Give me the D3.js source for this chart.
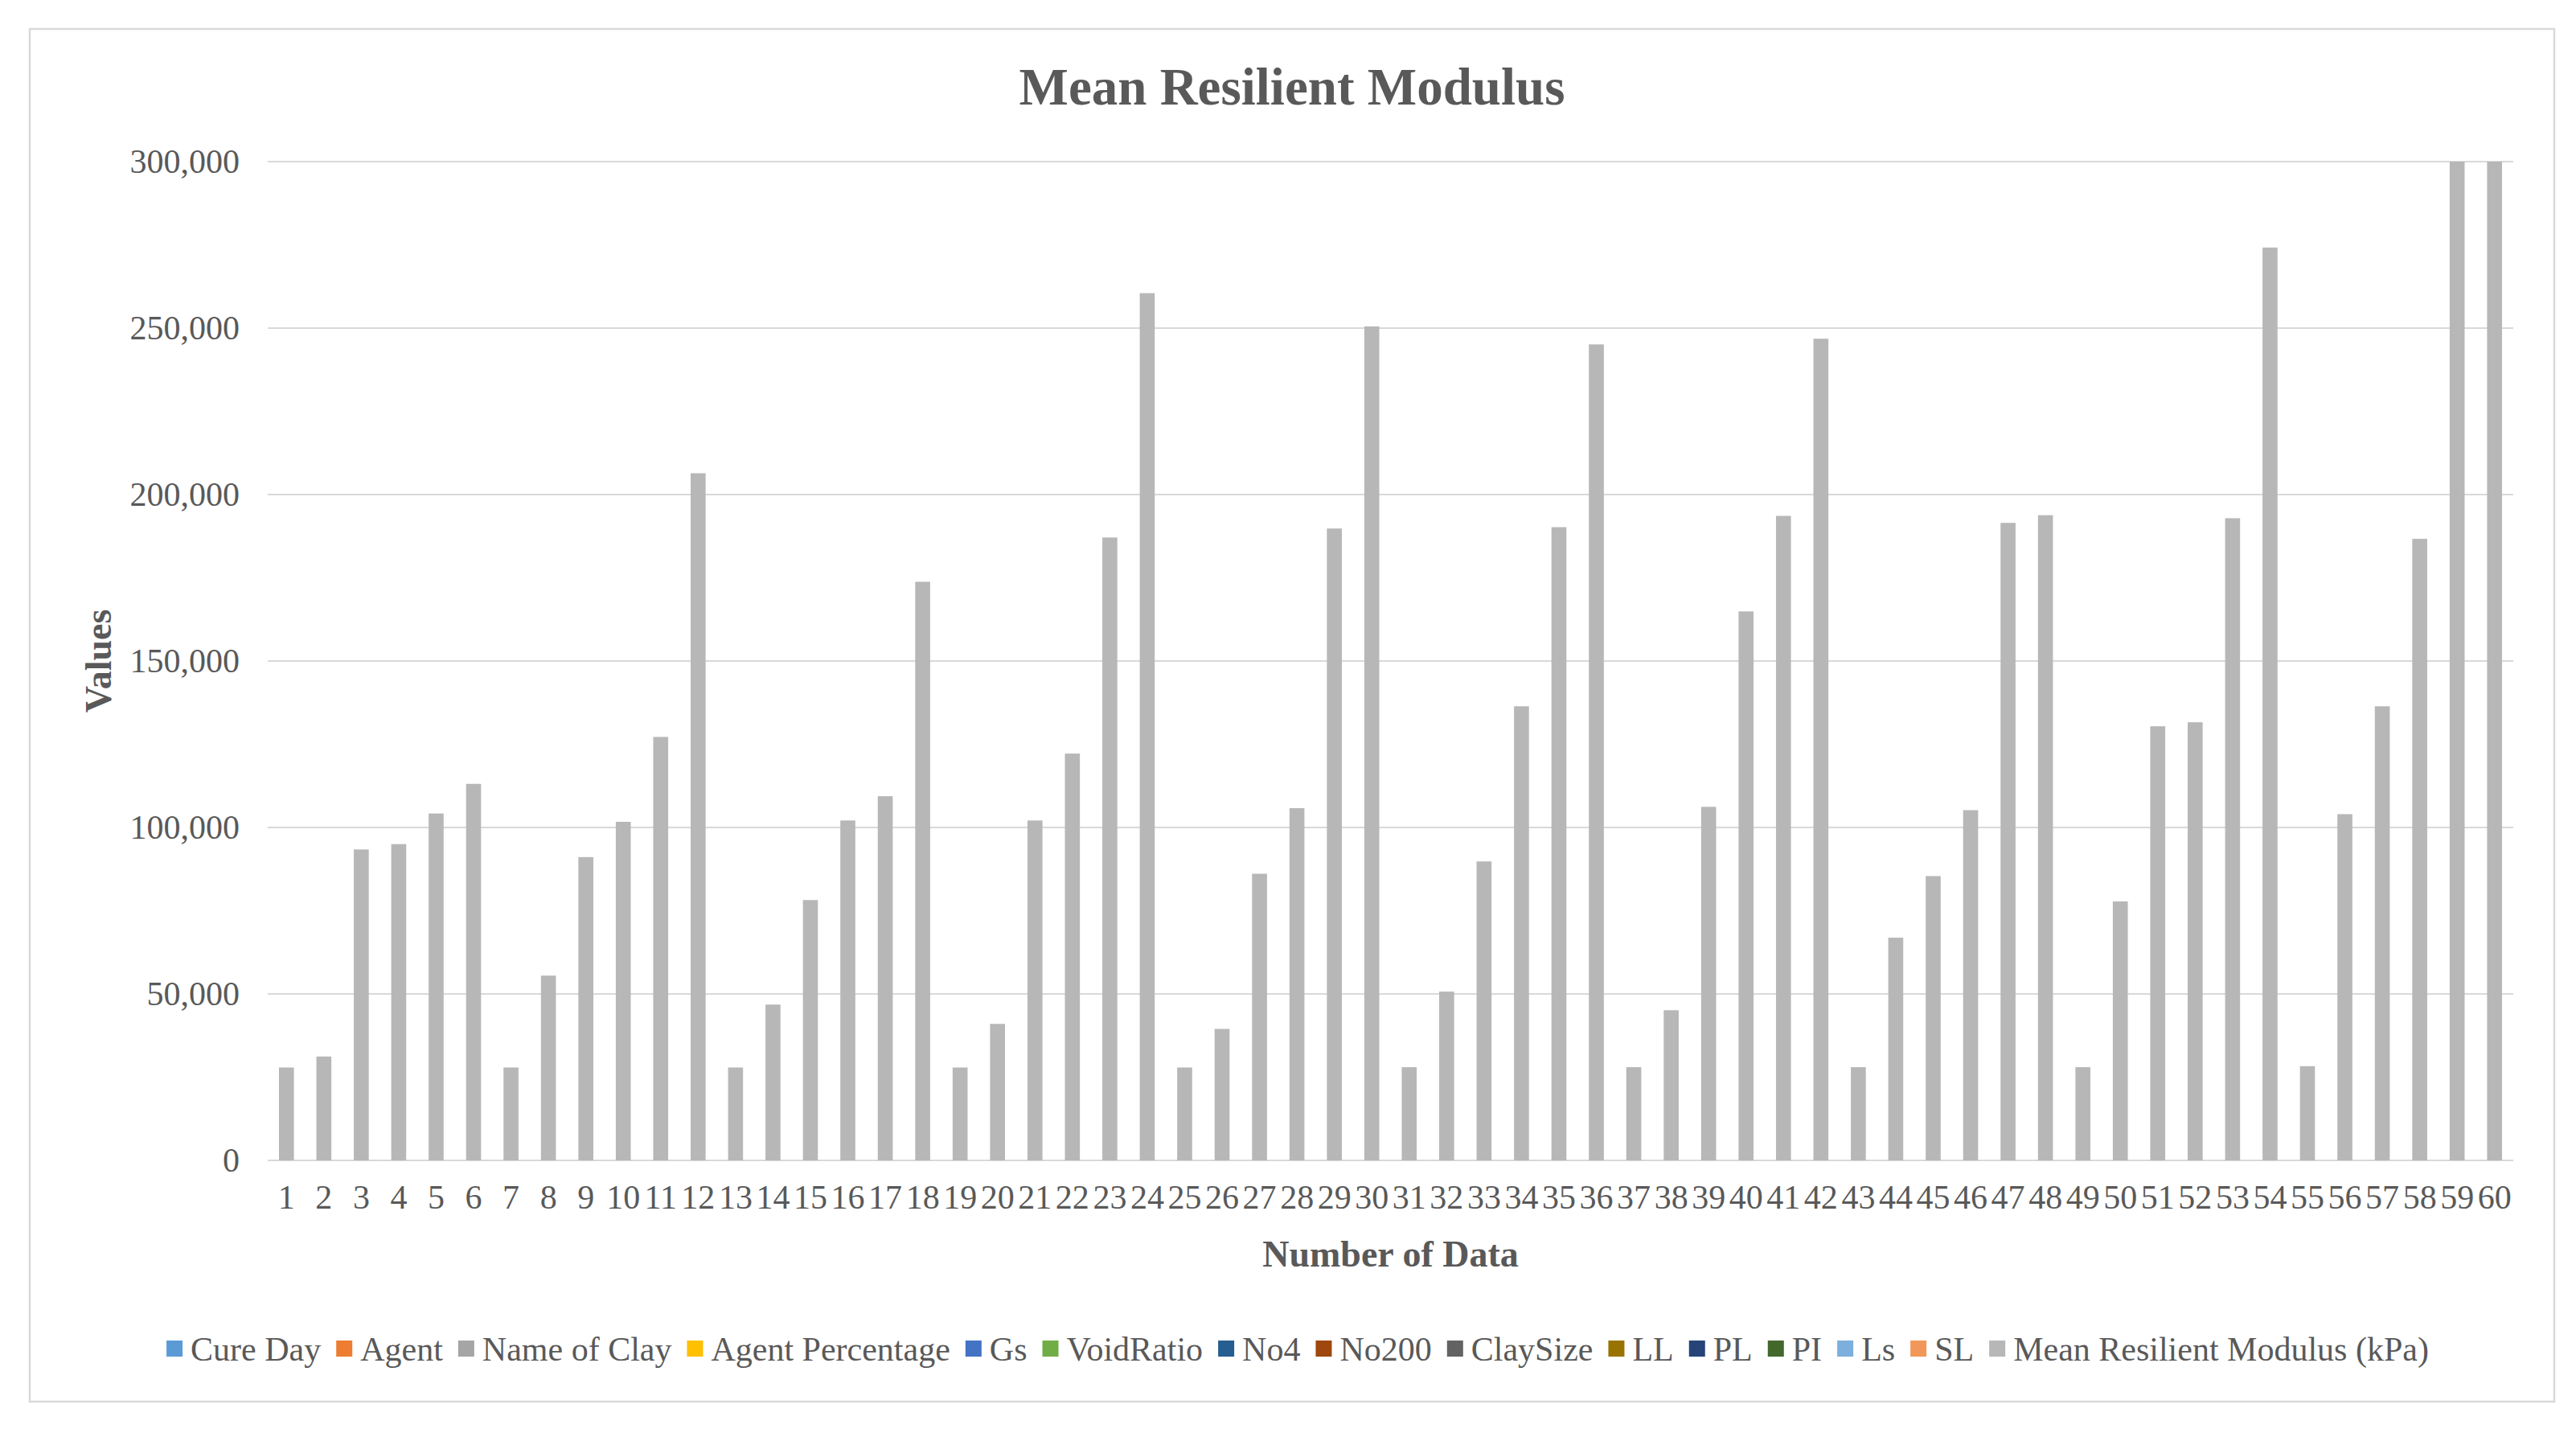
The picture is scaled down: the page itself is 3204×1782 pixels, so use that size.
<!DOCTYPE html>
<html>
<head>
<meta charset="utf-8">
<script src="https://cdn.jsdelivr.net/npm/d3@7"></script>
<style>
  html, body { margin: 0; padding: 0; background: #ffffff; }
  svg { display: block; }
  text { font-family: "Liberation Serif", "Times New Roman", serif; }
</style>
</head>
<body>
<svg id="chart" width="3204" height="1782"></svg>
<script>
// ---- Data ----
const categories = d3.range(1, 61).map(String);
const meanResilientModulus = [
  27900, 31200, 93400, 95000, 104200, 113100, 27900, 55500, 91100, 101700,
  127200, 206400, 27900, 46800, 78200, 102100, 109400, 173800, 27900, 41000,
  102100, 122200, 187100, 260500, 27900, 39500, 86100, 105800, 189800, 250500,
  28000, 50700, 89800, 136400, 190200, 245100, 28000, 45100, 106200, 164900,
  193600, 246800, 28000, 66900, 85400, 105200, 191500, 193800, 28000, 77800,
  130400, 131600, 192900, 274200, 28300, 104000, 136400, 186700, 300000, 300000
];
const yTicks = [0, 50000, 100000, 150000, 200000, 250000, 300000];
const legendNames = ["Cure Day", "Agent", "Name of Clay", "Agent Percentage", "Gs", "VoidRatio",
  "No4", "No200", "ClaySize", "LL", "PL", "PI", "Ls", "SL", "Mean Resilient Modulus (kPa)"];
const legendColors = ["#5B9BD5", "#ED7D31", "#A5A5A5", "#FFC000", "#4472C4", "#70AD47",
  "#255E91", "#9E480E", "#636363", "#997300", "#264478", "#43682B", "#7CAFDD", "#F1975A", "#B7B7B7"];
const titleText = "Mean Resilient Modulus";
const xTitle = "Number of Data";
const yTitle = "Values";

// ---- Layout ----
const svg = d3.select("#chart");
const textColor = "#595959";
const plot = { left: 333, right: 3126, top: 201, bottom: 1443 };

// chart border
svg.append("rect")
  .attr("x", 37).attr("y", 36).attr("width", 3140).attr("height", 1707)
  .attr("fill", "#ffffff").attr("stroke", "#d9d9d9").attr("stroke-width", 2.5);

const x = d3.scaleBand().domain(categories).range([plot.left, plot.right]).paddingInner(0.6).paddingOuter(0.3);
const y = d3.scaleLinear().domain([0, 300000]).range([plot.bottom, plot.top]).clamp(true);

// gridlines
svg.append("g").selectAll("line").data(yTicks).join("line")
  .attr("x1", plot.left).attr("x2", plot.right)
  .attr("y1", d => y(d)).attr("y2", d => y(d))
  .attr("stroke", "#d9d9d9").attr("stroke-width", 2);

// bars
svg.append("g").selectAll("rect").data(meanResilientModulus).join("rect")
  .attr("x", (d, i) => x(categories[i]))
  .attr("width", x.bandwidth())
  .attr("y", d => y(d))
  .attr("height", d => y(0) - y(d))
  .attr("fill", "#B7B7B7");

// y axis labels
const yAxis = d3.axisLeft(y).tickValues(yTicks).tickFormat(d3.format(",")).tickSize(0).tickPadding(35);
const gy = svg.append("g").attr("transform", `translate(${plot.left},0)`).call(yAxis);
gy.select(".domain").remove();
gy.selectAll("text").attr("fill", textColor).style("font-size", "42px")
  .style("font-family", "'Liberation Serif', 'Times New Roman', serif");

// x axis labels
const xAxis = d3.axisBottom(x).tickSize(0).tickPadding(30);
const gx = svg.append("g").attr("transform", `translate(0,${plot.bottom})`).call(xAxis);
gx.select(".domain").remove();
gx.selectAll("text").attr("fill", textColor).style("font-size", "42px")
  .style("font-family", "'Liberation Serif', 'Times New Roman', serif");

// title
svg.append("text").attr("x", 1607).attr("y", 130).attr("text-anchor", "middle")
  .attr("fill", textColor).style("font-size", "65px").style("font-weight", "bold").text(titleText);

// axis titles
svg.append("text").attr("x", (plot.left + plot.right) / 2).attr("y", 1575).attr("text-anchor", "middle")
  .attr("fill", textColor).style("font-size", "46px").style("font-weight", "bold").text(xTitle);
svg.append("text").attr("transform", `translate(138,${(plot.top + plot.bottom) / 2}) rotate(-90)`)
  .attr("text-anchor", "middle")
  .attr("fill", textColor).style("font-size", "46px").style("font-weight", "bold").text(yTitle);

// legend
const lg = svg.append("g");
const items = lg.selectAll("g").data(legendNames).join("g");
items.append("rect").attr("width", 20).attr("height", 20).attr("y", 1667)
  .attr("fill", (d, i) => legendColors[i]);
items.append("text").attr("x", 30).attr("y", 1692).attr("fill", textColor)
  .style("font-size", "42px").text(d => d);
let cx = 0;
const gap = 19;
items.each(function () {
  const g = d3.select(this);
  g.attr("transform", `translate(${cx},0)`);
  cx += 30 + g.select("text").node().getComputedTextLength() + gap;
});
const total = cx - gap;
lg.attr("transform", `translate(${1614 - total / 2},0)`);
</script>
</body>
</html>
